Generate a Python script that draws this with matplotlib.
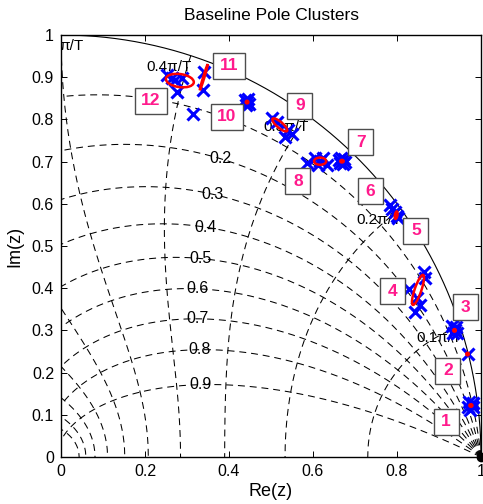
import numpy as np
import matplotlib
matplotlib.use("Agg")
import matplotlib.pyplot as plt
from matplotlib.patches import Ellipse, Rectangle

plt.rcParams['font.family'] = ['Liberation Sans', 'DejaVu Sans']
plt.rcParams['lines.scale_dashes'] = False

# ---------------- data ----------------
zeta_values = [0.2, 0.3, 0.4, 0.5, 0.6, 0.7, 0.8, 0.9]
zeta_grid = [0.1, 0.2, 0.3, 0.4, 0.5, 0.6, 0.7, 0.8, 0.9]
zeta_label_x = [0.379, 0.36, 0.345, 0.331, 0.326, 0.326, 0.329, 0.331]
wn_values = [0.1, 0.2, 0.3, 0.4, 0.5, 0.6, 0.7, 0.8, 0.9, 1.0]   # x pi/T
wn_labels = ['0.1\u03c0/T', '0.2\u03c0/T', '0.3\u03c0/T', '0.4\u03c0/T', '\u03c0/T']

cluster_ids = [1, 2, 3, 4, 5, 6, 7, 8, 9, 10, 11, 12]
blue_re = [
    [0.972, 0.980, 0.975, 0.982, 0.970, 0.978],
    [0.968],
    [0.930, 0.944, 0.940, 0.933, 0.937],
    [0.864, 0.867, 0.829, 0.848, 0.855, 0.843],
    [0.802, 0.795, 0.799],
    [0.783, 0.788],
    [0.662, 0.676, 0.667, 0.671, 0.664, 0.674],
    [0.586, 0.605, 0.624, 0.633, 0.612, 0.617],
    [0.502, 0.514, 0.533, 0.550, 0.540],
    [0.438, 0.448, 0.446, 0.440, 0.443],
    [0.340, 0.338],
    [0.252, 0.271, 0.288, 0.276, 0.264, 0.314],
]
blue_im = [
    [0.130, 0.118, 0.112, 0.127, 0.118, 0.125],
    [0.244],
    [0.310, 0.294, 0.308, 0.293, 0.300],
    [0.438, 0.424, 0.398, 0.377, 0.360, 0.344],
    [0.566, 0.580, 0.572],
    [0.597, 0.588],
    [0.703, 0.699, 0.708, 0.694, 0.696, 0.706],
    [0.697, 0.709, 0.709, 0.692, 0.692, 0.701],
    [0.803, 0.794, 0.758, 0.765, 0.775],
    [0.846, 0.836, 0.848, 0.835, 0.841],
    [0.912, 0.870],
    [0.905, 0.893, 0.898, 0.865, 0.898, 0.813],
]
# red covariance ellipses (None where not shown)
ell_re = [0.976, 0.968, 0.937, 0.850, 0.798, None, 0.669, 0.617, 0.521, 0.443, 0.340, 0.283]
ell_im = [0.122, 0.244, 0.300, 0.396, 0.573, None, 0.701, 0.701, 0.787, 0.841, 0.900, 0.892]
ell_w = [0.007, 0.006, 0.006, 0.075, 0.018, None, 0.008, 0.029, 0.045, 0.006, 0.064, 0.067]
ell_h = [0.006, 0.006, 0.006, 0.016, 0.006, None, 0.006, 0.017, 0.014, 0.006, 0.003, 0.031]
ell_ang = [0, 0, 0, 71, 80, None, 0, 0, -40, 0, 73, -8]

# label box centres (layout)
box_re = [0.917, 0.921, 0.964, 0.790, 0.845, 0.736, 0.714, 0.564, 0.569, 0.395, 0.400, 0.214]
box_im = [0.083, 0.204, 0.355, 0.393, 0.536, 0.630, 0.746, 0.654, 0.832, 0.806, 0.927, 0.844]

# ---------------- figure ----------------
fig = plt.figure(figsize=(4.83, 5.04), dpi=100)
ax = fig.add_axes([61 / 483, (504 - 457) / 504, 420 / 483, 422 / 504])
ax.set_xlim(0, 1)
ax.set_ylim(0, 1)

dash = (0, (5, 3.5))
# constant damping curves
for z in zeta_grid:
    m = np.tan(np.arcsin(z))
    th = np.linspace(0, np.pi, 600)
    zz = np.exp(th * (-m + 1j))
    ax.plot(zz.real, zz.imag, color='black', lw=0.75, linestyle=dash, zorder=1)

for z, lx in zip(zeta_values, zeta_label_x):
    m = np.tan(np.arcsin(z))
    th2 = np.linspace(0.2, np.pi / 2, 2000)
    zz2 = np.exp(th2 * (-m + 1j))
    k = np.argmin(np.abs(zz2.real - lx))
    ax.text(zz2.real[k], zz2.imag[k], f'{z:g}', ha='center', va='center',
            fontsize=11.5, zorder=2)

# constant natural frequency curves
zeta_s = np.linspace(0, 1, 400)
for w in wn_values:
    wr = w * np.pi
    zz = np.exp(wr * (-zeta_s + 1j * np.sqrt(1 - zeta_s ** 2)))
    ax.plot(zz.real, zz.imag, color='black', lw=0.75, linestyle=dash, zorder=1)

for w, lab in zip(wn_values, wn_labels):
    wr = w * np.pi
    if w < 0.5:
        ax.text(np.cos(wr) + 0.002, np.sin(wr) - 0.026, lab, ha='right', va='center',
                fontsize=11, zorder=2)
    else:
        ax.text(np.cos(wr) - 0.004, np.sin(wr) - 0.026, lab, ha='left', va='center',
                fontsize=11, zorder=2, clip_on=True)

# unit circle
th = np.linspace(0, np.pi / 2, 400)
ax.plot(np.cos(th), np.sin(th), color='black', lw=0.8, zorder=1)

# black dot at z = 1
ax.plot([1.0], [0.0], 'o', color='black', ms=6, clip_on=False, zorder=3)

# clusters
for i in range(len(cluster_ids)):
    ax.plot(blue_re[i], blue_im[i], linestyle='none', marker='x', color='blue',
            ms=8.5, mew=2.2, zorder=3)
    if ell_re[i] is not None:
        e = Ellipse((ell_re[i], ell_im[i]), ell_w[i], ell_h[i], angle=ell_ang[i],
                    fill=False, edgecolor='red', lw=1.8, zorder=4)
        ax.add_patch(e)

# number boxes
for cid, bx, by in zip(cluster_ids, box_re, box_im):
    wpx = 25 if cid < 10 else 32
    w = wpx / 420
    h = 26 / 422
    ax.add_patch(Rectangle((bx - w / 2, by - h / 2), w, h, facecolor='white',
                           edgecolor='#4d4d4d', lw=1.0, zorder=5))
    ax.text(bx, by, str(cid), ha='center', va='center', color='#ff1a8c',
            fontsize=12.5, fontweight='bold', zorder=6)

ax.set_xticks([0, 0.2, 0.4, 0.6, 0.8, 1.0])
ax.set_xticklabels(['0', '0.2', '0.4', '0.6', '0.8', '1'])
ax.set_yticks([0, 0.1, 0.2, 0.3, 0.4, 0.5, 0.6, 0.7, 0.8, 0.9, 1.0])
ax.set_yticklabels(['0', '0.1', '0.2', '0.3', '0.4', '0.5', '0.6', '0.7', '0.8', '0.9', '1'])
ax.tick_params(direction='in', top=True, right=True, length=4, width=0.7,
               labelsize=11.5, pad=5)
for s in ax.spines.values():
    s.set_linewidth(1.0)

ax.set_xlabel('Re(z)', fontsize=13, labelpad=3)
ax.set_ylabel('Im(z)', fontsize=13, labelpad=6)
ax.set_title('Baseline Pole Clusters', fontsize=12.5, pad=11)

fig.savefig('out.png', dpi=100)
